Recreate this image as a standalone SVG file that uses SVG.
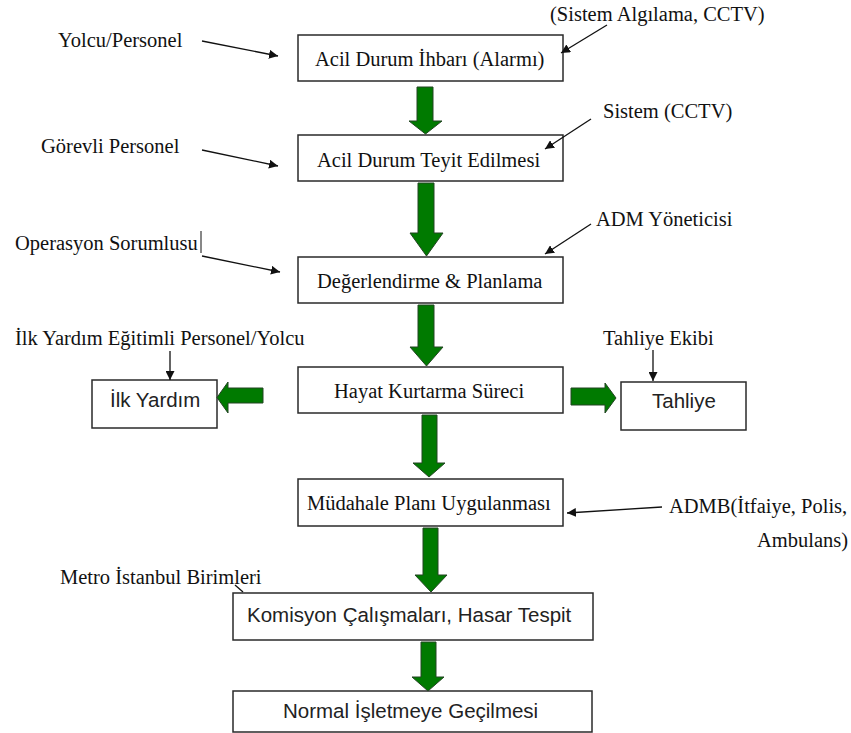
<svg xmlns="http://www.w3.org/2000/svg" width="851" height="733" viewBox="0 0 851 733">
<defs>
<style>
.box{fill:#fff;stroke:#2a2a2a;stroke-width:1.5}
.serif{font-family:"Liberation Serif","Times New Roman",serif;font-size:20.5px;fill:#111}
.sans{font-family:"Liberation Sans",Arial,sans-serif;font-size:20.5px;fill:#222}
.ga{fill:#007a00;stroke:#234423;stroke-width:1}
.ln{stroke:#111;stroke-width:1.3;fill:none}
</style>
<marker id="ah" viewBox="0 0 10 10" refX="10" refY="5" markerWidth="9" markerHeight="9" markerUnits="userSpaceOnUse" orient="auto">
<path d="M0,0 L10,5 L0,10 z" fill="#111"/>
</marker>
</defs>
<rect width="851" height="733" fill="#fff"/>

<g id="n1"><rect class="box" x="298" y="35" width="265" height="46"/><text class="serif" x="315" y="66">Acil Durum İhbarı (Alarmı)</text></g>
<g id="n2"><rect class="box" x="298" y="135" width="265" height="46"/><text class="serif" x="317" y="167">Acil Durum Teyit Edilmesi</text></g>
<g id="n3"><rect class="box" x="298" y="257" width="265" height="46"/><text class="serif" x="317" y="288">Değerlendirme &amp; Planlama</text></g>
<g id="n4"><rect class="box" x="298" y="367" width="265" height="46"/><text class="serif" x="334" y="398">Hayat Kurtarma Süreci</text></g>
<g id="n5"><rect class="box" x="92" y="380" width="125" height="48"/><text class="sans" x="110" y="407">İlk Yardım</text></g>
<g id="n6"><rect class="box" x="621" y="382" width="125" height="48"/><text class="sans" x="652" y="408">Tahliye</text></g>
<g id="n7"><rect class="box" x="298" y="479" width="265" height="47"/><text class="serif" x="307" y="510">Müdahale Planı Uygulanması</text></g>
<g id="n8"><rect class="box" x="233" y="593" width="360" height="47"/><text class="sans" x="247" y="622">Komisyon Çalışmaları, Hasar Tespit</text></g>
<g id="n9"><rect class="box" x="233" y="691" width="359" height="41"/><text class="sans" x="283" y="718">Normal İşletmeye Geçilmesi</text></g>

<g id="labels">
<text class="serif" x="58" y="47">Yolcu/Personel</text>
<text class="serif" x="550" y="21">(Sistem Algılama, CCTV)</text>
<text class="serif" x="41" y="153">Görevli Personel</text>
<text class="serif" x="603" y="118">Sistem (CCTV)</text>
<text class="serif" x="15" y="250">Operasyon Sorumlusu</text>
<text class="serif" x="596" y="226">ADM Yöneticisi</text>
<text class="serif" x="15" y="345">İlk Yardım Eğitimli Personel/Yolcu</text>
<text class="serif" x="603" y="345">Tahliye Ekibi</text>
<text class="serif" x="669" y="513">ADMB(İtfaiye, Polis,</text>
<text class="serif" x="757" y="547">Ambulans)</text>
<text class="serif" x="60" y="584">Metro İstanbul Birimleri</text>
</g>

<g id="connectors">
<path class="ga" d="M417,87 H433 V121 H442 L425.5,134 L409,121 H417 Z"/>
<path class="ga" d="M418,183 H434 V233 H443 L426.5,256 L410,233 H418 Z"/>
<path class="ga" d="M418,305 H434 V347 H443 L426.5,366 L410,347 H418 Z"/>
<path class="ga" d="M422,415 H437 V463 H445 L429,477 L413,463 H422 Z"/>
<path class="ga" d="M423,528 H438 V575 H447 L431,592 L415,575 H423 Z"/>
<path class="ga" d="M421,642 H436 V677 H444 L428,691 L412,677 H421 Z"/>
<path class="ga" d="M263,388 V403 H228 V413 L217,397.5 L228,382 V388 Z"/>
<path class="ga" d="M571,388 V405 H605 V413 L616,398 L605,383 V388 Z"/>

<line class="ln" x1="202" y1="41" x2="278" y2="56" marker-end="url(#ah)"/>
<line class="ln" x1="607" y1="25" x2="561" y2="53" marker-end="url(#ah)"/>
<line class="ln" x1="202" y1="150" x2="278" y2="166" marker-end="url(#ah)"/>
<line class="ln" x1="591" y1="119" x2="545" y2="149" marker-end="url(#ah)"/>
<line class="ln" x1="202" y1="256" x2="280" y2="272" marker-end="url(#ah)"/>
<line class="ln" x1="591" y1="224" x2="545" y2="254" marker-end="url(#ah)"/>
<line class="ln" x1="170" y1="351" x2="170" y2="380" marker-end="url(#ah)"/>
<line class="ln" x1="653" y1="350" x2="653" y2="381" marker-end="url(#ah)"/>
<line class="ln" x1="662" y1="507" x2="567" y2="513" marker-end="url(#ah)"/>
<line class="ln" x1="235" y1="585" x2="243" y2="592"/>
<line x1="201" y1="231" x2="201" y2="253" stroke="#111" stroke-width="1"/>
</g>
</svg>
